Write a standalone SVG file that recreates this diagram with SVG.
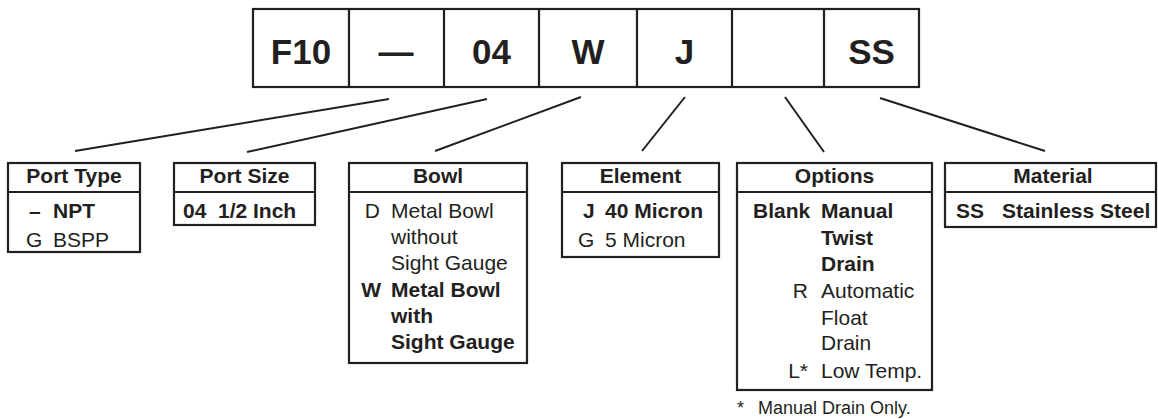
<svg xmlns="http://www.w3.org/2000/svg" width="1158" height="419" viewBox="0 0 1158 419">
<style>
  text { font-family: "Liberation Sans", Arial, Helvetica, sans-serif; fill: #231f20; }
  .code { font-size: 35px; font-weight: bold; text-anchor: middle; }
  .hd { font-size: 21px; font-weight: bold; text-anchor: middle; }
  .t { font-size: 21px; }
  .b { font-size: 21px; font-weight: bold; }
  .r { text-anchor: end; }
  .fn { font-size: 18px; }
  .box { fill: #ffffff; stroke: #231f20; stroke-width: 2.2; }
  .ln { stroke: #231f20; stroke-width: 2.2; fill: none; }
  .cn { stroke: #231f20; stroke-width: 2; fill: none; stroke-linecap: butt; }
</style>
<rect width="1158" height="419" fill="#ffffff"/>

<g id="code">
  <rect class="box" x="253" y="9" width="666" height="78"/>
  <path class="ln" d="M349 9V87M444 9V87M539 9V87M637 9V87M732 9V87M824 9V87"/>
  <g id="code-f10"><text class="code" x="301" y="64">F10</text></g>
  <g id="code-dash"><text class="code" x="396" y="64">—</text></g>
  <g id="code-04"><text class="code" x="491.5" y="64">04</text></g>
  <g id="code-w"><text class="code" x="588" y="64">W</text></g>
  <g id="code-j"><text class="code" x="684.5" y="64">J</text></g>
  <g id="code-blank"></g>
  <g id="code-ss"><text class="code" x="871.5" y="64">SS</text></g>
</g>

<g id="connectors">
  <line class="cn" x1="389" y1="99" x2="75" y2="151"/>
  <line class="cn" x1="487" y1="99" x2="247" y2="152"/>
  <line class="cn" x1="581" y1="97" x2="435" y2="151"/>
  <line class="cn" x1="685" y1="97" x2="642" y2="151"/>
  <line class="cn" x1="785" y1="97" x2="824" y2="152"/>
  <line class="cn" x1="880" y1="98" x2="1045" y2="151"/>
</g>

<g id="port-type">
  <rect class="box" x="8" y="163" width="132" height="89"/>
  <line class="ln" x1="8" y1="192" x2="140" y2="192"/>
  <text class="hd" x="74" y="183">Port Type</text>
  <text class="b" x="29" y="218">–</text>
  <text class="b" x="53" y="218">NPT</text>
  <text class="t" x="26" y="247">G</text>
  <text class="t" x="53" y="247">BSPP</text>
</g>

<g id="port-size">
  <rect class="box" x="174" y="163" width="141" height="62"/>
  <line class="ln" x1="174" y1="192" x2="315" y2="192"/>
  <text class="hd" x="244.5" y="183">Port Size</text>
  <text class="b" x="183" y="218">04</text>
  <text class="b" x="218" y="218">1/2 Inch</text>
</g>

<g id="bowl">
  <rect class="box" x="349" y="163" width="178" height="200"/>
  <line class="ln" x1="349" y1="192" x2="527" y2="192"/>
  <text class="hd" x="438" y="183">Bowl</text>
  <text class="t r" x="380" y="218">D</text>
  <text class="t" x="391" y="218">Metal Bowl</text>
  <text class="t" x="391" y="244">without</text>
  <text class="t" x="391" y="270">Sight Gauge</text>
  <text class="b r" x="381" y="297">W</text>
  <text class="b" x="391" y="297">Metal Bowl</text>
  <text class="b" x="391" y="323">with</text>
  <text class="b" x="391" y="349">Sight Gauge</text>
</g>

<g id="element">
  <rect class="box" x="562" y="163" width="157" height="94"/>
  <line class="ln" x1="562" y1="192" x2="719" y2="192"/>
  <text class="hd" x="640.5" y="183">Element</text>
  <text class="b" x="583" y="218">J</text>
  <text class="b" x="605" y="218">40 Micron</text>
  <text class="t" x="578" y="247">G</text>
  <text class="t" x="605" y="247">5 Micron</text>
</g>

<g id="options">
  <rect class="box" x="737" y="163" width="195" height="227"/>
  <line class="ln" x1="737" y1="192" x2="932" y2="192"/>
  <text class="hd" x="834.5" y="183">Options</text>
  <text class="b" x="753" y="218">Blank</text>
  <text class="b" x="821" y="218">Manual</text>
  <text class="b" x="821" y="245">Twist</text>
  <text class="b" x="821" y="271">Drain</text>
  <text class="t r" x="808" y="298">R</text>
  <text class="t" x="821" y="298">Automatic</text>
  <text class="t" x="821" y="325">Float</text>
  <text class="t" x="821" y="350">Drain</text>
  <text class="t r" x="808" y="378">L*</text>
  <text class="t" x="821" y="378">Low Temp.</text>
</g>

<g id="material">
  <rect class="box" x="945" y="163" width="211" height="64"/>
  <line class="ln" x1="945" y1="192" x2="1156" y2="192"/>
  <text class="hd" x="1053" y="183">Material</text>
  <text class="b" x="956" y="218">SS</text>
  <text class="b" x="1002" y="218">Stainless Steel</text>
</g>

<g id="footnote">
  <text class="fn" x="737" y="414">*</text>
  <text class="fn" x="758" y="414">Manual Drain Only.</text>
</g>
</svg>
